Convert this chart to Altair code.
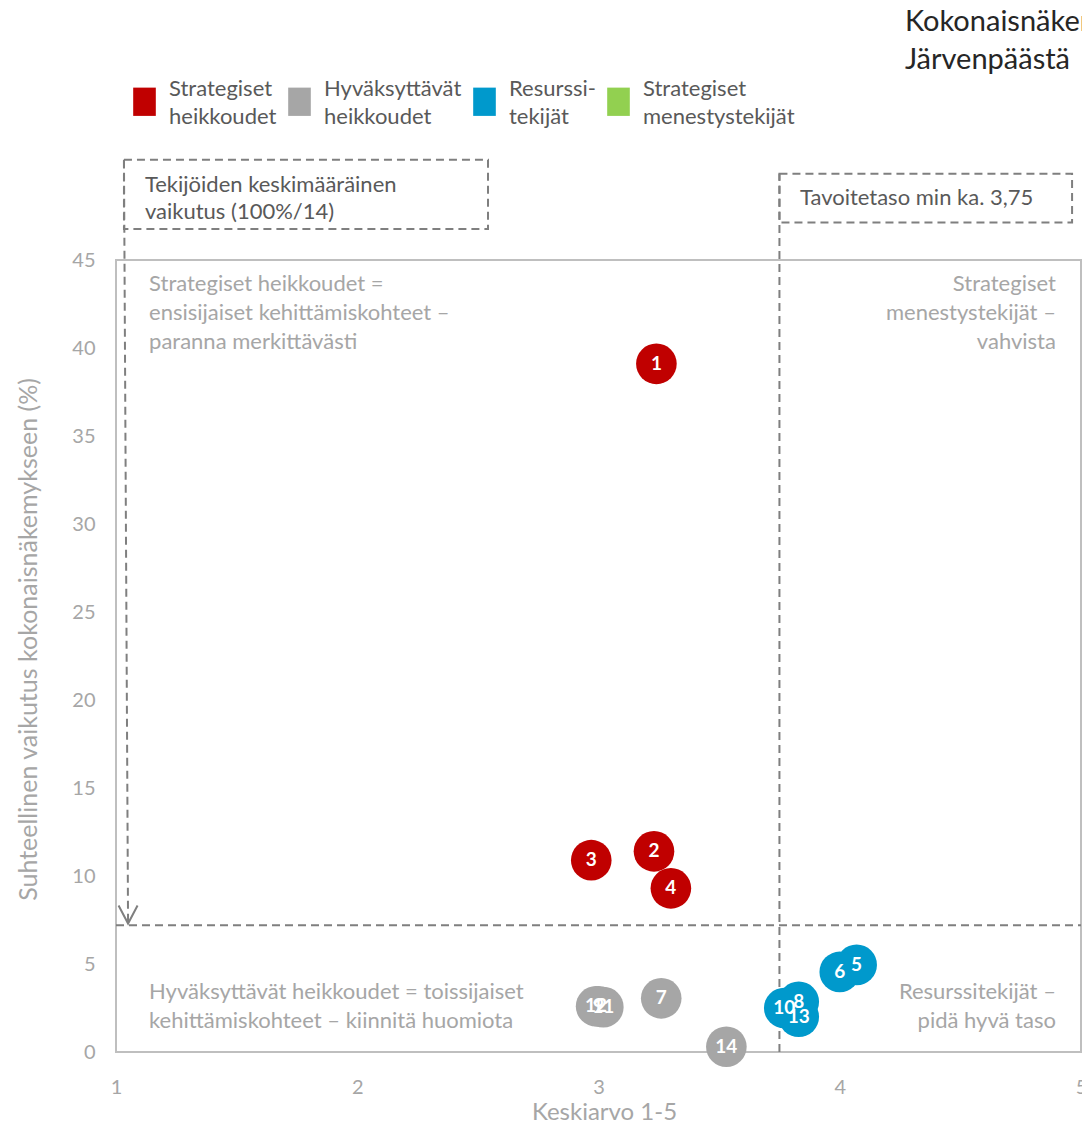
import altair as alt
import pandas as pd

# ---- data ----
ids = ["1", "2", "3", "4", "5", "6", "7", "8", "9", "10", "11", "12", "13", "14"]
keskiarvo = [3.24, 3.23, 2.97, 3.30, 4.07, 4.00, 3.26, 3.83, 3.00, 3.77, 3.02, 2.99, 3.83, 3.53]
vaikutus = [39.1, 11.4, 10.9, 9.3, 4.95, 4.55, 3.05, 2.85, 2.6, 2.5, 2.55, 2.6, 2.0, 0.3]
groups = ["Strategiset heikkoudet"] * 4 + ["Resurssitekijät", "Resurssitekijät",
          "Hyväksyttävät heikkoudet", "Resurssitekijät", "Hyväksyttävät heikkoudet",
          "Resurssitekijät", "Hyväksyttävät heikkoudet", "Hyväksyttävät heikkoudet",
          "Resurssitekijät", "Hyväksyttävät heikkoudet"]

categories = ["Strategiset heikkoudet", "Hyväksyttävät heikkoudet",
              "Resurssitekijät", "Strategiset menestystekijät"]
colors = ["#c00000", "#a6a6a6", "#0099cc", "#92d050"]

x_ticks = [1, 2, 3, 4, 5]
y_ticks = [0, 5, 10, 15, 20, 25, 30, 35, 40, 45]

avg_effect = 7.2          # 100 % / 14, as drawn
target_level = 3.75       # "Tavoitetaso min ka. 3,75"

# annotation boxes (data coordinates)
box_x = [1.033, target_level]
box_x2 = [2.542, 4.963]
box_y = [46.76, 47.13]
box_y2 = [50.7, 49.9]
box_text = [["Tekijöiden keskimääräinen", "vaikutus (100%/14)"],
            ["Tavoitetaso min ka. 3,75"]]
box_text_x = [1.12, 3.835]
box_text_y = [49.26, 48.52]

quad_left_text = [["Strategiset heikkoudet =", "ensisijaiset kehittämiskohteet –", "paranna merkittävästi"],
                  ["Hyväksyttävät heikkoudet = toissijaiset", "kehittämiskohteet – kiinnitä huomiota"]]
quad_left_x = [1.137, 1.137]
quad_left_y = [43.64, 3.41]
quad_right_text = [["Strategiset", "menestystekijät –", "vahvista"],
                   ["Resurssitekijät –", "pidä hyvä taso"]]
quad_right_x = [4.896, 4.896]
quad_right_y = [43.64, 3.41]

title_lines = ["Kokonaisnäkemys", "Järvenpäästä"]
title_x = 4.27
title_y = 58.52

FONT = "Lato"
GRAY = "#a6a6a6"
DARK = "#595959"
DASH = "#7f7f7f"

pts = pd.DataFrame({"id": ids, "x": keskiarvo, "y": vaikutus, "ryhma": groups})
boxes = pd.DataFrame({"x": box_x, "x2": box_x2, "y": box_y, "y2": box_y2})
btext = pd.DataFrame({"x": box_text_x, "y": box_text_y, "t": box_text})
qleft = pd.DataFrame({"x": quad_left_x, "y": quad_left_y, "t": quad_left_text})
qright = pd.DataFrame({"x": quad_right_x, "y": quad_right_y, "t": quad_right_text})
lines = pd.DataFrame({
    "x": [1.0, target_level, 1.033],
    "x2": [5.0, target_level, 1.05],
    "y": [avg_effect, 0.0, 50.7],
    "y2": [avg_effect, 49.9, 7.35],
})
arrow = pd.DataFrame({"x": [1.05], "y": [7.3]})
ttl = pd.DataFrame({"x": [title_x], "y": [title_y], "t": [title_lines]})

xs = alt.Scale(domain=[1, 5], nice=False, zero=False)
ys = alt.Scale(domain=[0, 45], nice=False, zero=True)

X = alt.X("x:Q", scale=xs, axis=alt.Axis(
    values=x_ticks, format="d", title="Keskiarvo 1-5", grid=False, ticks=False,
    domain=False, labelFlush=False,
    labelFont=FONT, labelFontSize=20, labelColor=GRAY, labelPadding=25,
    titleFont=FONT, titleFontSize=24, titleColor=GRAY, titleFontWeight="normal",
    titleX=488, titleY=60, titleBaseline="middle"))
Y = alt.Y("y:Q", scale=ys, axis=alt.Axis(
    values=y_ticks, title="Suhteellinen vaikutus kokonaisnäkemykseen (%)", grid=False,
    ticks=False, domain=False, labelFlush=False, labelFont=FONT, labelFontSize=20,
    labelColor=GRAY, labelPadding=21, titleFont=FONT, titleFontSize=25,
    titleColor=GRAY, titleFontWeight="normal", titleX=-88, titleY=379,
    titleAngle=270, titleAlign="center", titleBaseline="middle"))

box_layer = alt.Chart(boxes).mark_rect(
    fillOpacity=0, stroke=DASH, strokeWidth=2, strokeDash=[8, 5]
).encode(x=alt.X("x:Q", scale=xs), x2="x2:Q", y=alt.Y("y:Q", scale=ys), y2="y2:Q")

line_layer = alt.Chart(lines).mark_rule(
    stroke=DASH, strokeWidth=2, strokeDash=[8, 5]
).encode(x=alt.X("x:Q", scale=xs), x2="x2:Q", y=alt.Y("y:Q", scale=ys), y2="y2:Q")

arrow_layer = alt.Chart(arrow).mark_point(
    shape="M-1,-1.9L0,0L1,-1.9", filled=False, stroke=DASH, strokeWidth=2,
    size=361, opacity=1
).encode(x=alt.X("x:Q", scale=xs), y=alt.Y("y:Q", scale=ys))

btext_layer = alt.Chart(btext).mark_text(
    align="left", baseline="middle", font=FONT, fontSize=22, color=DARK, lineHeight=27
).encode(x=alt.X("x:Q", scale=xs), y=alt.Y("y:Q", scale=ys), text="t")

qleft_layer = alt.Chart(qleft).mark_text(
    align="left", baseline="middle", font=FONT, fontSize=22, color=GRAY, lineHeight=29
).encode(x=alt.X("x:Q", scale=xs), y=alt.Y("y:Q", scale=ys), text="t")

qright_layer = alt.Chart(qright).mark_text(
    align="right", baseline="middle", font=FONT, fontSize=22, color=GRAY, lineHeight=29
).encode(x=alt.X("x:Q", scale=xs), y=alt.Y("y:Q", scale=ys), text="t")

title_layer = alt.Chart(ttl).mark_text(
    align="left", baseline="middle", font=FONT, fontSize=29, color="#262626", lineHeight=38
).encode(x=alt.X("x:Q", scale=xs), y=alt.Y("y:Q", scale=ys), text="t")

label_expr = ("datum.label == 'Resurssitekijät' ? ['Resurssi-', 'tekijät'] : "
              "split(datum.label, ' ')")

circles = alt.Chart(pts).mark_circle(size=1650, opacity=1).encode(
    x=X, y=Y,
    color=alt.Color("ryhma:N", scale=alt.Scale(domain=categories, range=colors),
                    legend=alt.Legend(
                        orient="none", legendX=14, legendY=-186, direction="horizontal",
                        columns=4, title=None, symbolType="M-0.8,-0.08H0.8V1.92H-0.8Z",
                        symbolSize=800, symbolStrokeWidth=0, symbolOpacity=1,
                        labelFont=FONT, labelFontSize=22, labelColor=DARK,
                        labelExpr=label_expr, labelLimit=300, labelOffset=10,
                        columnPadding=8, padding=0, labelBaseline="middle")),
)

labels = alt.Chart(pts).mark_text(
    font=FONT, fontSize=19, fontWeight="bold", color="white", baseline="middle"
).encode(x=alt.X("x:Q", scale=xs), y=alt.Y("y:Q", scale=ys), text="id:N")

chart = alt.layer(
    box_layer, line_layer, arrow_layer, btext_layer, qleft_layer, qright_layer,
    title_layer, circles, labels
).properties(
    width=965, height=792,
    autosize=alt.AutoSizeParams(type="none"),
    padding={"left": 108, "top": 252, "right": 1, "bottom": 72},
).configure(
    style={"guide-label": {"lineHeight": 28}}
).configure_view(stroke="#bfbfbf", strokeWidth=2)

chart.save("out.html", embed_options={"renderer": "svg", "actions": False})
